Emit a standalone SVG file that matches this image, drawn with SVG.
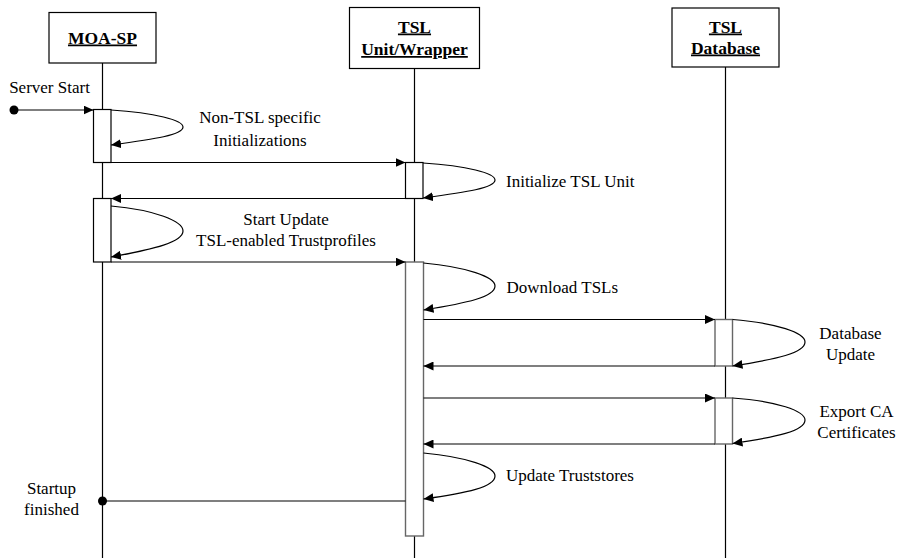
<svg xmlns="http://www.w3.org/2000/svg" width="905" height="558" viewBox="0 0 905 558">
<style>
text{font-family:"Liberation Serif","Times New Roman",Tinos,"DejaVu Serif",serif;font-size:17px;fill:#000}
.hdr{font-weight:bold;text-decoration:underline;text-anchor:middle;font-size:17.5px}
.c{text-anchor:middle}
.life{stroke:#000;stroke-width:1.2;fill:none}
.box{fill:#fff;stroke:#000;stroke-width:1.2}
.act{fill:#fff;stroke:#000;stroke-width:1.2}
.actg{fill:#fff;stroke:#666;stroke-width:1.4}
.msg{stroke:#000;stroke-width:1.2;fill:none;marker-end:url(#ah)}
.ln{stroke:#000;stroke-width:1.2;fill:none}
</style>
<defs>
<marker id="ah" markerUnits="userSpaceOnUse" markerWidth="11" markerHeight="9" refX="10" refY="4.5" orient="auto">
<path d="M0,0 L10,4.5 L0,9 z" fill="#000"/>
</marker>
</defs>
<rect width="905" height="558" fill="#fff"/>

<g id="lifelines">
<line class="life" x1="102.5" y1="63" x2="102.5" y2="558"/>
<line class="life" x1="414.5" y1="68" x2="414.5" y2="558"/>
<line class="life" x1="725.5" y1="67" x2="725.5" y2="558"/>
</g>

<g id="moa">
<rect class="box" x="49" y="12.5" width="107" height="50.5"/>
<text class="hdr" x="102.5" y="43.5">MOA-SP</text>
</g>
<g id="tslunit">
<rect class="box" x="349.5" y="7.5" width="130" height="61"/>
<text class="hdr" x="414.5" y="32.5">TSL</text>
<text class="hdr" x="414.5" y="55">Unit/Wrapper</text>
</g>
<g id="tsldb">
<rect class="box" x="672" y="8" width="107" height="59"/>
<text class="hdr" x="725.5" y="32.5">TSL</text>
<text class="hdr" x="725.5" y="53.5">Database</text>
</g>

<g id="activations">
<rect class="act" x="93.5" y="109.5" width="17.5" height="53"/>
<rect class="act" x="405.5" y="162.5" width="17.5" height="36"/>
<rect class="act" x="93.5" y="198.5" width="17.5" height="63.5"/>
<rect class="actg" x="405.5" y="262" width="18" height="274"/>
<rect class="actg" x="715" y="319.5" width="17.5" height="46.5"/>
<rect class="actg" x="715" y="398" width="17.5" height="46"/>
</g>

<g id="connectors">
<circle cx="14" cy="110" r="4.5" fill="#000"/>
<line class="msg" x1="14" y1="110" x2="93.5" y2="110"/>
<path class="msg" d="M111,110 C155,113 183,120 183,127 C183,135 155,139 111,145"/>
<line class="msg" x1="111" y1="162.5" x2="405.5" y2="162.5"/>
<path class="msg" d="M423,163 C467,166 495,173 495,180 C495,188 467,192 423,198"/>
<line class="msg" x1="405.5" y1="198.5" x2="111" y2="198.5"/>
<path class="msg" d="M111,206 C155,210 183,221 183,231 C183,242 155,249 111,257"/>
<line class="msg" x1="111" y1="262" x2="405.5" y2="262"/>
<path class="msg" d="M423.5,263 C467,267 495,277 495,286 C495,297 467,303 423.5,310"/>
<line class="msg" x1="423.5" y1="319.5" x2="715" y2="319.5"/>
<path class="msg" d="M732.5,319.5 C777,323 805,333 805,342 C805,353 777,359 732.5,366"/>
<line class="msg" x1="715" y1="366" x2="423.5" y2="366"/>
<line class="msg" x1="423.5" y1="398" x2="715" y2="398"/>
<path class="msg" d="M732.5,398 C777,401 805,411 805,420 C805,431 777,437 732.5,443.5"/>
<line class="msg" x1="715" y1="444" x2="423.5" y2="444"/>
<path class="msg" d="M423.5,453 C467,457 495,467 495,476 C495,487 467,493 423.5,499"/>
<line class="ln" x1="405.5" y1="501" x2="102.5" y2="501"/>
<circle cx="102.5" cy="501" r="4.5" fill="#000"/>
</g>

<g id="labels">
<text class="c" x="49.5" y="93">Server Start</text>
<text class="c" x="260" y="122.5">Non-TSL specific</text>
<text class="c" x="260" y="146">Initializations</text>
<text x="506" y="187">Initialize TSL Unit</text>
<text class="c" x="286" y="225">Start Update</text>
<text class="c" x="286" y="246">TSL-enabled Trustprofiles</text>
<text x="506.5" y="293">Download TSLs</text>
<text class="c" x="850.5" y="338.5">Database</text>
<text class="c" x="850.5" y="359.5">Update</text>
<text class="c" x="856.5" y="416.5">Export CA</text>
<text class="c" x="856.5" y="438">Certificates</text>
<text x="506" y="481">Update Truststores</text>
<text class="c" x="51.5" y="494">Startup</text>
<text class="c" x="51.5" y="515">finished</text>
</g>
</svg>
